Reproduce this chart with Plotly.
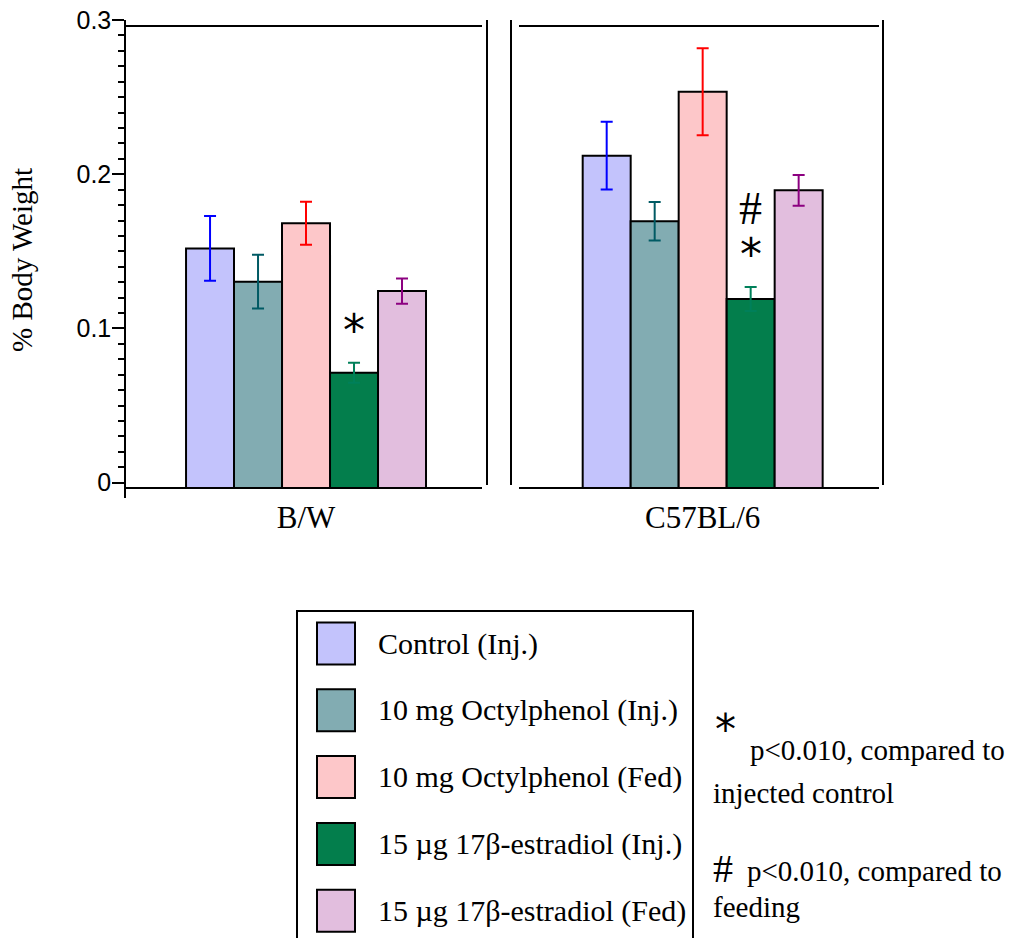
import plotly.graph_objects as go

# ---------------- data ----------------
groups = ["B/W", "C57BL/6"]
series_names = [
    "Control (Inj.)",
    "10 mg Octylphenol (Inj.)",
    "10 mg Octylphenol (Fed)",
    "15 µg 17β-estradiol (Inj.)",
    "15 µg 17β-estradiol (Fed)",
]
control_inj = [0.1556, 0.2158]
octyl_inj = [0.1340, 0.1732]
octyl_fed = [0.1719, 0.2573]
estr_inj = [0.0749, 0.1227]
estr_fed = [0.1279, 0.1933]

control_inj_err = [0.0210, 0.0220]
octyl_inj_err = [0.0175, 0.0125]
octyl_fed_err = [0.0140, 0.0283]
estr_inj_err = [0.0065, 0.0078]
estr_fed_err = [0.0082, 0.0100]

y_tick_vals = [0, 0.1, 0.2, 0.3]
y_tick_labels = ["0", "0.1", "0.2", "0.3"]

# significance marks: (group index, series index, symbol)
sig_marks = [(0, 3, "*"), (1, 3, "*"), (1, 3, "#")]

# ---------------- styling ----------------
fill_colors = ["#C3C3FC", "#82ACB2", "#FDC7C9", "#037E4C", "#E2BEDE"]
err_colors = ["#0000FF", "#005A64", "#FF0000", "#00805A", "#8C0080"]
SERIF = "Liberation Serif, Times New Roman, serif"
SANS = "Liberation Sans, Arial, sans-serif"
AST = "DejaVu Sans, sans-serif"

W, H = 1018, 938


def fx(px):
    return px / W


def fy(py):
    return 1 - py / H


values = [control_inj, octyl_inj, octyl_fed, estr_inj, estr_fed]
errors = [control_inj_err, octyl_inj_err, octyl_fed_err, estr_inj_err, estr_fed_err]

fig = go.Figure()
for name, vals, errs, fc, ec in zip(series_names, values, errors, fill_colors, err_colors):
    fig.add_trace(go.Bar(
        x=groups, y=vals, name=name,
        marker=dict(color=fc, line=dict(color="black", width=2)),
        error_y=dict(type="data", array=errs, visible=True, color=ec, thickness=2, width=6),
        showlegend=False, hoverinfo="skip",
    ))

# empty trace to carry the displayed tick axis
fig.add_trace(go.Scatter(x=[groups[0]], y=[None], yaxis="y2", mode="markers",
                         showlegend=False, hoverinfo="skip"))

shapes = []
line = dict(color="black", width=2)
# panel frames (left panel's left side is the y axis)
for (x0, y0, x1, y1) in [
    (125, 26, 482, 26), (125, 488, 482, 488), (487, 20, 487, 485),
    (511, 20, 511, 485), (519, 26, 879, 26), (519, 488, 879, 488), (883, 20, 883, 485),
]:
    shapes.append(dict(type="line", xref="paper", yref="paper",
                       x0=fx(x0), y0=fy(y0), x1=fx(x1), y1=fy(y1), line=line))

annotations = []
# legend box
shapes.append(dict(type="rect", xref="paper", yref="paper",
                   x0=fx(297), x1=fx(693), y0=fy(960), y1=fy(611),
                   line=dict(color="black", width=2), fillcolor="rgba(0,0,0,0)"))
for i, (name, fc) in enumerate(zip(series_names, fill_colors)):
    cy = 643.5 + i * 66.8
    shapes.append(dict(type="rect", xref="paper", yref="paper",
                       x0=fx(317), x1=fx(355), y0=fy(cy + 21), y1=fy(cy - 21),
                       line=dict(color="black", width=2), fillcolor=fc))
    annotations.append(dict(xref="paper", yref="paper", x=fx(376), y=fy(cy),
                            xanchor="left", yanchor="middle", showarrow=False,
                            text=name, font=dict(family=SERIF, size=30, color="black")))

# significance symbols above bars
n = len(series_names)
group_w = 0.605
bar_w = group_w / n
stack = {}
for g, s, sym in sig_marks:
    xpos = g - group_w / 2 + bar_w * (s + 0.5)
    k = stack.get((g, s), 0)
    stack[(g, s)] = k + 1
    ypos = values[s][g] + errors[s][g] + 0.021 + k * 0.030
    annotations.append(dict(xref="x", yref="y", x=xpos, y=ypos, text=sym,
                            showarrow=False, xanchor="center", yanchor="middle",
                            font=dict(family=AST if sym == "*" else SERIF,
                                      size=44 if sym == "*" else 46, color="black")))

# footnotes
foot = [
    (713, 729, "*", 42, AST),
    (748, 750, "p<0.010, compared to", 29, SERIF),
    (711, 793, "injected control", 29, SERIF),
    (711, 868, "#", 40, SERIF),
    (745, 871, "p<0.010, compared to", 29, SERIF),
    (711, 907, "feeding", 29, SERIF),
]
for x, y, t, s, f in foot:
    annotations.append(dict(xref="paper", yref="paper", x=fx(x), y=fy(y), text=t,
                            xanchor="left", yanchor="middle", showarrow=False,
                            font=dict(family=f, size=s, color="black")))

# y axis title
annotations.append(dict(xref="paper", yref="paper", x=fx(22), y=fy(260),
                        text="% Body Weight", textangle=-90, showarrow=False,
                        xanchor="center", yanchor="middle",
                        font=dict(family=SERIF, size=29, color="black")))

fig.update_layout(
    width=W, height=H,
    margin=dict(l=0, r=0, t=0, b=0, pad=0, autoexpand=False),
    paper_bgcolor="white", plot_bgcolor="rgba(0,0,0,0)",
    barmode="group", bargap=1 - group_w, bargroupgap=0,
    xaxis=dict(type="category", categoryorder="array", categoryarray=groups,
               range=[-0.5, 1.5], domain=[fx(107.7), fx(901)], anchor="y",
               showline=False, ticks="", showgrid=False, zeroline=False,
               automargin=False,
               tickfont=dict(family=SERIF, size=31, color="black"),
               ticklabelstandoff=8),
    yaxis=dict(domain=[fy(488), fy(26)], range=[0, 0.3], visible=False,
               showgrid=False, zeroline=False, automargin=False),
    yaxis2=dict(domain=[fy(497.97), fy(20)], range=[-0.0099, 0.3],
                anchor="free", position=fx(125), side="left",
                showline=True, linecolor="black", linewidth=1.5,
                ticks="outside", ticklen=12, tickwidth=1.5, tickcolor="black",
                tickmode="array", tickvals=y_tick_vals, ticktext=y_tick_labels,
                tickfont=dict(family=SANS, size=25, color="black"),
                ticklabelstandoff=-4, automargin=False,
                minor=dict(ticks="outside", ticklen=6, tickwidth=1.5,
                           tickcolor="black", tick0=0, dtick=0.01),
                showgrid=False, zeroline=False),
    shapes=shapes, annotations=annotations,
)

fig.write_html("out.html", config={"displayModeBar": False},
               post_script="document.body.style.margin='0';document.body.style.padding='0';")
